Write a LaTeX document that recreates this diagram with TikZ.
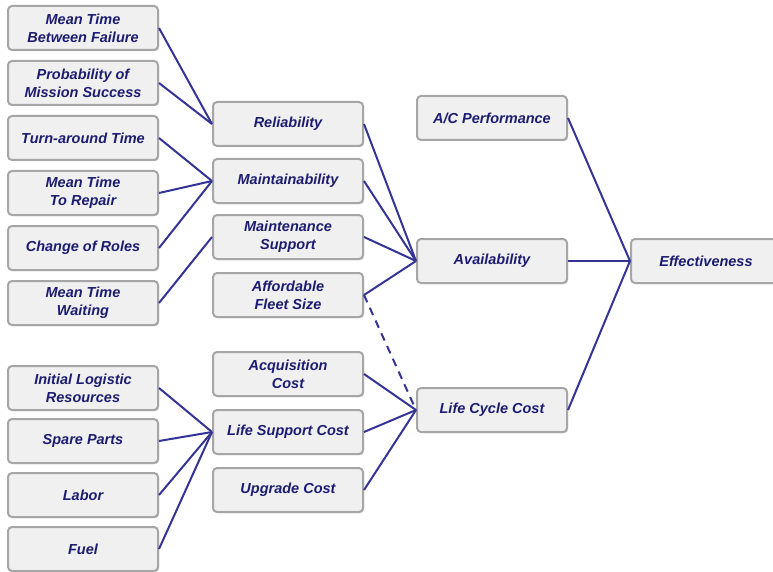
\documentclass[tikz,border=0pt]{standalone}
\usepackage{fontspec}
\setmainfont{Liberation Sans}
\usepackage{tikz}
\usetikzlibrary{shadows}
\definecolor{navytext}{RGB}{28,28,112}
\definecolor{linkblue}{RGB}{52,52,150}
\definecolor{boxfill}{RGB}{240,240,240}
\tikzset{factor/.style = {draw=gray!70, line width=2pt, fill=boxfill,
                          rounded corners=4pt, minimum width=150pt,
                          minimum height=44pt, inner sep=0pt, align=center,
                          text=navytext,
                          font=\bfseries\itshape\fontsize{14.5}{18}\selectfont,
                          drop shadow={opacity=0.35, shadow xshift=1.2pt,
                                       shadow yshift=-1.2pt}},
         link/.style = {draw=linkblue, line width=2pt},
         dashlink/.style = {link, dash pattern=on 8pt off 6pt}}

\begin{document}
\begin{tikzpicture}[x=1pt, y=-1pt]
    \useasboundingbox (0, 0) rectangle (773, 572);

    % lowest level
    \node [factor] (mtbf)   at (83, 28)  {Mean Time\\Between Failure};
    \node [factor] (pms)    at (83, 83)  {Probability of\\Mission Success};
    \node [factor] (tat)    at (83, 138) {Turn-around Time};
    \node [factor] (mttr)   at (83, 193) {Mean Time\\To Repair};
    \node [factor] (roles)  at (83, 248) {Change of Roles};
    \node [factor] (mtw)    at (83, 303) {Mean Time\\Waiting};
    \node [factor] (ilr)    at (83, 388) {Initial Logistic\\Resources};
    \node [factor] (spares) at (83, 441) {Spare Parts};
    \node [factor] (labor)  at (83, 495) {Labor};
    \node [factor] (fuel)   at (83, 549) {Fuel};

    % second level
    \node [factor] (rel)   at (288, 124) {Reliability};
    \node [factor] (maint) at (288, 181) {Maintainability};
    \node [factor] (msup)  at (288, 237) {Maintenance\\Support};
    \node [factor] (fleet) at (288, 295) {Affordable\\Fleet Size};
    \node [factor] (acq)   at (288, 374) {Acquisition\\Cost};
    \node [factor] (lsc)   at (288, 432) {Life Support Cost};
    \node [factor] (upg)   at (288, 490) {Upgrade Cost};

    % third level
    \node [factor] (acperf) at (492, 118) {A/C Performance};
    \node [factor] (avail)  at (492, 261) {Availability};
    \node [factor] (lcc)    at (492, 410) {Life Cycle Cost};

    \node [factor] (eff) at (706, 261) {Effectiveness};

    \draw [link] (mtbf.east) -- (rel.west);
    \draw [link] (pms.east) -- (rel.west);
    \draw [link] (tat.east) -- (maint.west);
    \draw [link] (mttr.east) -- (maint.west);
    \draw [link] (roles.east) -- (maint.west);
    \draw [link] (mtw.east) -- (msup.west);
    \draw [link] (ilr.east) -- (lsc.west);
    \draw [link] (spares.east) -- (lsc.west);
    \draw [link] (labor.east) -- (lsc.west);
    \draw [link] (fuel.east) -- (lsc.west);

    \draw [link] (rel.east) -- (avail.west);
    \draw [link] (maint.east) -- (avail.west);
    \draw [link] (msup.east) -- (avail.west);
    \draw [link] (fleet.east) -- (avail.west);
    \draw [dashlink] (fleet.east) -- (lcc.west);
    \draw [link] (acq.east) -- (lcc.west);
    \draw [link] (lsc.east) -- (lcc.west);
    \draw [link] (upg.east) -- (lcc.west);

    \draw [link] (acperf.east) -- (eff.west);
    \draw [link] (avail.east) -- (eff.west);
    \draw [link] (lcc.east) -- (eff.west);
\end{tikzpicture}
\end{document}
